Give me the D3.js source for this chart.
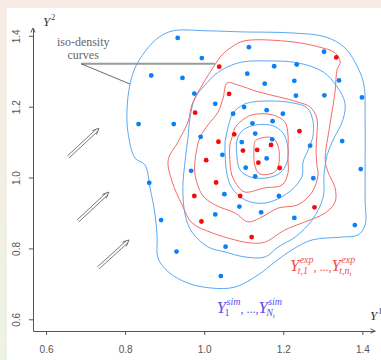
<!DOCTYPE html>
<html>
<head>
<meta charset="utf-8">
<script src="https://cdn.jsdelivr.net/npm/d3@7/dist/d3.min.js"></script>
<style>
  html, body { margin: 0; padding: 0; }
  body { width: 381px; height: 360px; overflow: hidden; }
  svg { display: block; }
</style>
</head>
<body>
<svg id="chart" width="381" height="360"></svg>
<script>
// axis limits and ticks
const xLim = [0.567, 1.432];
const yLim = [0.567, 1.422];
const xTicks = [0.6, 0.8, 1.0, 1.2, 1.4];
const yTicks = [0.6, 0.8, 1.0, 1.2, 1.4];

// simulated sample Y_1^sim ... Y_Nt^sim  (blue)
const simPoints = [
  [0.933,1.394],[0.994,1.337],[0.866,1.288],[0.945,1.281],[0.975,1.237],[1.028,1.208],
  [1.101,1.199],[1.073,1.180],[0.834,1.151],[0.923,1.151],[0.991,1.115],[1.095,1.100],
  [1.046,1.064],[1.113,1.368],[1.303,1.355],[1.177,1.314],[1.234,1.319],[1.109,1.293],
  [1.341,1.274],[1.153,1.265],[1.228,1.273],[1.232,1.231],[1.304,1.232],[1.399,1.226],
  [1.158,1.190],[1.199,1.180],[1.122,1.153],[1.173,1.159],[1.129,1.124],[1.172,1.108],
  [1.268,1.090],[1.349,1.103],[1.158,1.054],[1.105,1.028],[1.129,1.003],[1.276,0.998],
  [1.396,1.024],[0.967,1.019],[0.861,0.985],[1.051,0.953],[1.189,0.948],[1.089,0.918],
  [1.028,0.896],[0.891,0.880],[1.144,0.902],[1.228,0.886],[1.381,0.866],[0.930,0.791],
  [1.054,0.805],[1.042,0.722]
];

// experimental sample Y_t,1^exp ... Y_t,nt^exp  (red)
const expPoints = [
  [1.038,1.313],[1.063,1.236],[0.977,1.183],[1.076,1.122],[1.036,1.101],[1.098,1.076],
  [1.005,1.049],[1.334,1.339],[1.241,1.131],[1.169,1.092],[1.134,1.078],[1.137,1.042],
  [1.191,1.027],[1.030,0.986],[0.975,0.948],[1.091,0.948],[0.993,0.876],[1.279,0.916],
  [1.120,0.832]
];

// iso-density curves of the simulated sample (outer to inner)
const simContours = [
  [[0.921,1.414],[1.010,1.414],[1.096,1.411],[1.222,1.408],[1.306,1.397],[1.356,1.366],[1.389,1.309],
   [1.404,1.261],[1.407,1.163],[1.407,1.050],[1.407,0.937],[1.407,0.866],[1.389,0.838],[1.349,0.832],
   [1.273,0.824],[1.222,0.796],[1.179,0.762],[1.136,0.725],[1.078,0.691],[1.020,0.688],[0.959,0.702],
   [0.909,0.734],[0.883,0.773],[0.881,0.830],[0.876,0.894],[0.863,0.971],[0.850,1.036],[0.825,1.055],
   [0.807,1.129],[0.805,1.197],[0.812,1.261],[0.825,1.309],[0.850,1.355],[0.883,1.394]],
  [[1.096,1.326],[1.167,1.329],[1.235,1.324],[1.301,1.298],[1.336,1.256],[1.356,1.211],[1.351,1.163],
   [1.326,1.106],[1.311,1.064],[1.303,1.007],[1.301,0.945],[1.273,0.880],[1.230,0.832],[1.187,0.804],
   [1.154,0.776],[1.103,0.776],[1.053,0.790],[1.010,0.804],[0.969,0.846],[0.952,0.894],[0.946,0.971],
   [0.952,1.050],[0.959,1.112],[0.964,1.168],[0.977,1.225],[1.002,1.261],[1.027,1.290],[1.053,1.309]],
  [[1.073,1.182],[1.098,1.205],[1.121,1.213],[1.172,1.216],[1.222,1.211],[1.260,1.197],[1.275,1.160],
   [1.275,1.117],[1.263,1.078],[1.250,1.044],[1.247,1.002],[1.212,0.957],[1.154,0.928],[1.103,0.937],
   [1.070,0.971],[1.058,1.007],[1.053,1.064],[1.053,1.101],[1.060,1.140]],
  [[1.083,1.106],[1.098,1.134],[1.134,1.149],[1.174,1.146],[1.199,1.126],[1.212,1.086],[1.209,1.041],
   [1.192,1.013],[1.159,0.999],[1.116,1.002],[1.091,1.021],[1.083,1.058]]
];

// iso-density curves of the experimental sample (outer to inner)
const expContours = [
  [[1.103,1.386],[1.222,1.383],[1.288,1.369],[1.331,1.352],[1.344,1.326],[1.336,1.304],[1.331,1.242],
   [1.318,1.149],[1.306,1.050],[1.313,1.016],[1.331,0.971],[1.331,0.931],[1.306,0.900],[1.255,0.875],
   [1.204,0.852],[1.154,0.818],[1.121,0.815],[1.078,0.824],[1.020,0.844],[0.969,0.872],[0.944,0.923],
   [0.919,0.988],[0.909,1.050],[0.934,1.101],[0.959,1.157],[0.969,1.205],[0.995,1.261],[1.027,1.318],
   [1.045,1.346],[1.070,1.369]],
  [[1.058,1.267],[1.086,1.261],[1.136,1.242],[1.187,1.228],[1.237,1.213],[1.268,1.199],[1.285,1.168],
   [1.285,1.120],[1.283,1.078],[1.285,1.036],[1.288,1.007],[1.273,0.959],[1.237,0.923],[1.187,0.914],
   [1.146,0.889],[1.111,0.875],[1.078,0.900],[1.027,0.923],[0.995,0.951],[0.977,1.007],[0.977,1.050],
   [0.989,1.112],[1.010,1.149],[1.035,1.185],[1.048,1.225]],
  [[1.091,1.157],[1.121,1.177],[1.172,1.177],[1.204,1.157],[1.212,1.120],[1.212,1.084],[1.212,1.050],
   [1.212,1.013],[1.197,0.979],[1.154,0.971],[1.103,0.959],[1.086,0.974],[1.070,1.007],[1.065,1.050],
   [1.065,1.092],[1.070,1.112],[1.078,1.140]],
  [[1.129,1.103],[1.146,1.112],[1.172,1.112],[1.187,1.089],[1.187,1.030],[1.174,1.013],[1.141,1.010],
   [1.129,1.030],[1.126,1.086]]
];

// annotations (data coordinates)
const isoLabel = [["iso-density", 0.694, 1.371], ["curves", 0.694, 1.335]];
const isoLeader = [[0.689, 1.321], [1.027, 1.321]];
const isoPointer = [[0.689, 1.321], [0.812, 1.264]];
const flowArrows = [
  [[0.656, 1.058], [0.734, 1.139]],
  [[0.681, 0.878], [0.759, 0.959]],
  [[0.732, 0.745], [0.810, 0.824]]
];
const expLegendAt = [1.217, 0.737];
const simLegendAt = [1.032, 0.618];

const W = 381, H = 360;
const svg = d3.select('#chart');
const serif = '"Liberation Serif", "Times New Roman", serif';

// background frame
const defs = svg.append('defs');
const bg = defs.append('linearGradient').attr('id', 'bg').attr('x1', 0).attr('y1', 0).attr('x2', 0).attr('y2', 1);
bg.append('stop').attr('offset', '0%').attr('stop-color', '#f7ebe5');
bg.append('stop').attr('offset', '100%').attr('stop-color', '#edf3e3');
svg.append('rect').attr('width', W).attr('height', H).attr('fill', 'url(#bg)');
svg.append('rect').attr('x', 7).attr('y', 8).attr('width', W - 7).attr('height', H - 8).attr('fill', '#fff');

const x = d3.scaleLinear().domain(xLim).range([33, 375]);
const y = d3.scaleLinear().domain(yLim).range([331, 28]);

const axisColor = '#555';

// Y axis
const gy = svg.append('g')
  .attr('transform', `translate(${x(xLim[0])},0)`)
  .call(d3.axisLeft(y).tickValues(yTicks).tickFormat(d3.format('.1f')).tickSizeInner(4).tickSizeOuter(0));
gy.selectAll('text')
  .attr('transform', 'rotate(-90)')
  .attr('x', 0)
  .attr('y', -13.5)
  .attr('dy', 0)
  .attr('text-anchor', 'middle');

// X axis
const gx = svg.append('g')
  .attr('transform', `translate(0,${y(yLim[0])})`)
  .call(d3.axisBottom(x).tickValues(xTicks).tickFormat(d3.format('.1f')).tickSizeInner(4).tickSizeOuter(0).tickPadding(11));

[gx, gy].forEach(g => {
  g.attr('font-family', '"Liberation Sans", Arial, sans-serif').attr('font-size', 10);
  g.select('.domain').attr('stroke', axisColor);
  g.selectAll('.tick line').attr('stroke', axisColor);
  g.selectAll('.tick text').attr('fill', '#555');
});

// axis arrow heads
const head = (px, py, ang, len, spread) => {
  const a1 = ang + Math.PI - spread, a2 = ang + Math.PI + spread;
  return `M${px + len * Math.cos(a1)},${py + len * Math.sin(a1)}L${px},${py}L${px + len * Math.cos(a2)},${py + len * Math.sin(a2)}`;
};
svg.append('path').attr('d', head(x(xLim[0]), y(yLim[1]), -Math.PI / 2, 5, 0.45))
  .attr('fill', 'none').attr('stroke', axisColor);
svg.append('path').attr('d', head(x(xLim[1]), y(yLim[0]), 0, 5, 0.45))
  .attr('fill', 'none').attr('stroke', axisColor);

// axis titles
const axisTitle = (px, py, base, sup) => {
  const t = svg.append('text').attr('x', px).attr('y', py)
    .attr('font-family', serif).attr('fill', '#333');
  t.append('tspan').attr('font-style', 'italic').attr('font-size', 13).text(base);
  t.append('tspan').attr('font-size', 8).attr('dy', -6).attr('dx', 1).text(sup);
};
axisTitle(x(xLim[0]) + 10, y(yLim[1]) - 2, 'Y', '2');
axisTitle(x(xLim[1]) - 5, y(yLim[0]) - 11, 'Y', '1');

// contours
const line = d3.line().x(d => x(d[0])).y(d => y(d[1])).curve(d3.curveCatmullRomClosed.alpha(0.5));
svg.append('g').selectAll('path').data(simContours).join('path')
  .attr('d', line).attr('fill', 'none').attr('stroke', '#5ba9f3').attr('stroke-width', 1);
svg.append('g').selectAll('path').data(expContours).join('path')
  .attr('d', line).attr('fill', 'none').attr('stroke', '#f36a6a').attr('stroke-width', 1);

// points
svg.append('g').selectAll('circle').data(simPoints).join('circle')
  .attr('cx', d => x(d[0])).attr('cy', d => y(d[1])).attr('r', 2.4).attr('fill', '#0b80f5');
svg.append('g').selectAll('circle').data(expPoints).join('circle')
  .attr('cx', d => x(d[0])).attr('cy', d => y(d[1])).attr('r', 2.4).attr('fill', '#f40a0a');

// iso-density annotation
svg.append('path')
  .attr('d', d3.line().x(d => x(d[0])).y(d => y(d[1]))(isoLeader))
  .attr('stroke', '#9a9a9a').attr('stroke-width', 2).attr('fill', 'none');
svg.append('path')
  .attr('d', d3.line().x(d => x(d[0])).y(d => y(d[1]))(isoPointer))
  .attr('stroke', '#444').attr('stroke-width', 0.8).attr('fill', 'none');
svg.append('g').selectAll('text').data(isoLabel).join('text')
  .attr('x', d => x(d[1])).attr('y', d => y(d[2]))
  .attr('text-anchor', 'middle')
  .attr('font-family', serif)
  .attr('font-size', 12).attr('fill', '#666')
  .text(d => d[0]);

// double-shaft arrows
const ga = svg.append('g').attr('stroke', '#555').attr('stroke-width', 0.8).attr('fill', 'none');
flowArrows.forEach(([a, b]) => {
  const x1 = x(a[0]), y1 = y(a[1]), x2 = x(b[0]), y2 = y(b[1]);
  const ang = Math.atan2(y2 - y1, x2 - x1);
  const nx = -Math.sin(ang) * 1.3, ny = Math.cos(ang) * 1.3;
  const ex = x2 - Math.cos(ang) * 2.5, ey = y2 - Math.sin(ang) * 2.5;
  ga.append('path').attr('d', `M${x1 + nx},${y1 + ny}L${ex + nx},${ey + ny}M${x1 - nx},${y1 - ny}L${ex - nx},${ey - ny}`);
  ga.append('path').attr('d', head(x2, y2, ang, 7, 0.42));
});

// math legends
function drawMath(px, py, parts, color) {
  const g = svg.append('g').attr('fill', color).attr('font-family', serif);
  let cx = px;
  parts.forEach(p => {
    if (p.text !== undefined) {
      const t = g.append('text').attr('x', cx).attr('y', py).attr('font-size', 12).text(p.text);
      cx += t.node().getComputedTextLength();
      return;
    }
    const b = g.append('text').attr('x', cx).attr('y', py).attr('font-size', 16.5)
      .attr('font-style', 'italic').text(p.base);
    cx += b.node().getComputedTextLength();
    let w = 0;
    if (p.sup) {
      const s = g.append('text').attr('x', cx + 0.5).attr('y', py - 8).attr('font-size', 10)
        .attr('font-style', 'italic').text(p.sup);
      w = Math.max(w, s.node().getComputedTextLength() + 0.5);
    }
    if (p.sub) {
      const s = g.append('text').attr('x', cx - 1.5).attr('y', py + 3).attr('font-size', 10)
        .attr('font-style', p.subUpright ? 'normal' : 'italic').text(p.sub);
      if (p.subsub) s.append('tspan').attr('font-size', 7).attr('dy', 2).text(p.subsub);
      w = Math.max(w, s.node().getComputedTextLength() - 1.5);
    }
    cx += w;
  });
}

drawMath(x(expLegendAt[0]), y(expLegendAt[1]), [
  { base: 'Y', sup: 'exp', sub: 't,1' },
  { text: ' , ..., ' },
  { base: 'Y', sup: 'exp', sub: 't,n', subsub: 't' }
], '#f05050');

drawMath(x(simLegendAt[0]), y(simLegendAt[1]), [
  { base: 'Y', sup: 'sim', sub: '1', subUpright: true },
  { text: ' , ..., ' },
  { base: 'Y', sup: 'sim', sub: 'N', subsub: 't' }
], '#5a50f0');
</script>
</body>
</html>
